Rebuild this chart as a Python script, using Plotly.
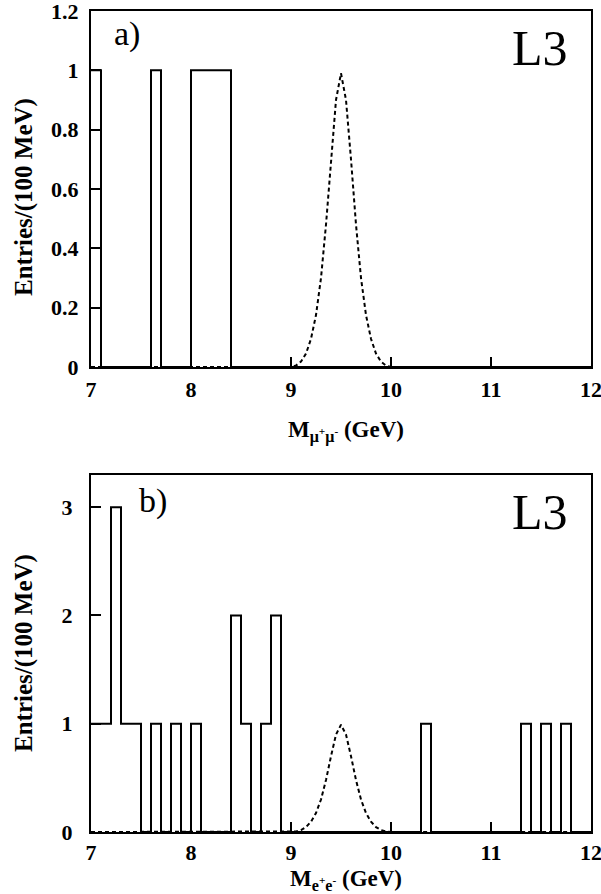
import numpy as np
import plotly.graph_objects as go

# ---- data ----
bin_edges = np.round(np.linspace(7.0, 12.0, 51), 2)
# counts per 100 MeV bin, 7.0-12.0 GeV (50 bins)
mumu_counts = [1, 0, 0, 0, 0, 0, 1, 0, 0, 0,
               1, 1, 1, 1, 0, 0, 0, 0, 0, 0,
               0, 0, 0, 0, 0, 0, 0, 0, 0, 0,
               0, 0, 0, 0, 0, 0, 0, 0, 0, 0,
               0, 0, 0, 0, 0, 0, 0, 0, 0, 0]
ee_counts = [1, 1, 3, 1, 1, 0, 1, 0, 1, 0,
             1, 0, 0, 0, 2, 1, 0, 1, 2, 0,
             0, 0, 0, 0, 0, 0, 0, 0, 0, 0,
             0, 0, 0, 1, 0, 0, 0, 0, 0, 0,
             0, 0, 0, 1, 0, 1, 0, 1, 0, 0]
# expected signal shape (dashed curve)
sig_x = [7.0, 9.0, 9.05, 9.1, 9.15, 9.2, 9.25, 9.3, 9.35, 9.4, 9.45, 9.5,
         9.55, 9.6, 9.65, 9.7, 9.75, 9.8, 9.85, 9.9, 9.95, 10.0, 12.0]
sig_y = [0.0, 0.0, 0.005, 0.018, 0.045, 0.095, 0.175, 0.30, 0.48, 0.70, 0.90, 0.99,
         0.90, 0.70, 0.48, 0.30, 0.175, 0.095, 0.045, 0.018, 0.005, 0.0, 0.0]

x_ticks = [7, 8, 9, 10, 11, 12]
top_yticks = [0, 0.2, 0.4, 0.6, 0.8, 1, 1.2]
bot_yticks = [0, 1, 2, 3]

FONT = "Liberation Serif"

def step_trace(counts, xa, ya):
    ys = list(counts) + [counts[-1]]
    return go.Scatter(x=list(bin_edges), y=ys, mode="lines", line_shape="hv",
                      line=dict(color="black", width=2), xaxis=xa, yaxis=ya,
                      showlegend=False, hoverinfo="skip")

def sig_trace(xa, ya):
    return go.Scatter(x=sig_x, y=sig_y, mode="lines",
                      line=dict(color="black", width=2, dash="4px,3px"),
                      xaxis=xa, yaxis=ya, showlegend=False, hoverinfo="skip")

fig = go.Figure()
fig.add_trace(sig_trace("x", "y"))
fig.add_trace(step_trace(mumu_counts, "x", "y"))
fig.add_trace(sig_trace("x2", "y2"))
fig.add_trace(step_trace(ee_counts, "x2", "y2"))

tickfont = dict(family=FONT, size=22, color="black", weight="bold")
axis_common = dict(showgrid=False, zeroline=False, showline=True, linecolor="black",
                   linewidth=2, mirror=True, ticks="inside", ticklen=10, tickwidth=1.5,
                   tickcolor="black", tickfont=tickfont, automargin=False,
                   ticklabeloverflow="allow")

fig.update_layout(
    width=601, height=894,
    margin=dict(l=91, r=10, t=11, b=62, autoexpand=False),
    paper_bgcolor="white", plot_bgcolor="white",
    xaxis=dict(domain=[0, 1], range=[7, 12], tickvals=x_ticks, anchor="y",
               ticklabelstandoff=2, **axis_common),
    yaxis=dict(domain=[0.5664, 1], range=[0, 1.2], tickvals=top_yticks, anchor="x",
               ticklabelstandoff=6, **axis_common),
    xaxis2=dict(domain=[0, 1], range=[7, 12], tickvals=x_ticks, anchor="y2",
                ticklabelstandoff=0, **axis_common),
    yaxis2=dict(domain=[0, 0.4352], range=[0, 3.3], tickvals=bot_yticks, anchor="x2",
                ticklabelstandoff=12, **axis_common),
)

ann = []
# panel labels
ann.append(dict(text="a)", x=7.21, y=1.121, xref="x", yref="y", xanchor="left",
                yanchor="middle", showarrow=False, font=dict(family=FONT, size=34, color="black")))
ann.append(dict(text="L3", x=11.79, y=1.076, xref="x", yref="y", xanchor="right",
                yanchor="middle", showarrow=False, font=dict(family=FONT, size=50, color="black")))
ann.append(dict(text="b)", x=7.46, y=3.056, xref="x2", yref="y2", xanchor="left",
                yanchor="middle", showarrow=False, font=dict(family=FONT, size=34, color="black")))
ann.append(dict(text="L3", x=11.79, y=2.954, xref="x2", yref="y2", xanchor="right",
                yanchor="middle", showarrow=False, font=dict(family=FONT, size=50, color="black")))
# y titles
ytf = dict(family=FONT, size=25, color="black", weight="bold")
ann.append(dict(text="Entries/(100 MeV)", x=(24 - 91) / 500, y=(832 - 197) / 821, xref="paper", yref="paper",
                textangle=-90, xanchor="center", yanchor="middle", showarrow=False, font=ytf))
ann.append(dict(text="Entries/(100 MeV)", x=(24 - 91) / 500, y=(832 - 653) / 821, xref="paper", yref="paper",
                textangle=-90, xanchor="center", yanchor="middle", showarrow=False, font=ytf))
# x titles
xtf = dict(family=FONT, size=23, color="black", weight="bold")
ann.append(dict(text="M<sub>μ<sup>+</sup>μ<sup>-</sup></sub> (GeV)", x=0.51, y=(832 - 431) / 821,
                xref="paper", yref="paper", xanchor="center", yanchor="middle", showarrow=False, font=xtf))
ann.append(dict(text="M<sub>e<sup>+</sup>e<sup>-</sup></sub> (GeV)", x=0.51, y=(832 - 880) / 821,
                xref="paper", yref="paper", xanchor="center", yanchor="middle", showarrow=False, font=xtf))
fig.update_layout(annotations=ann)

fig.write_html("out.html", config={"displayModeBar": False},
               post_script="document.body.style.margin='0';document.body.style.padding='0';")
